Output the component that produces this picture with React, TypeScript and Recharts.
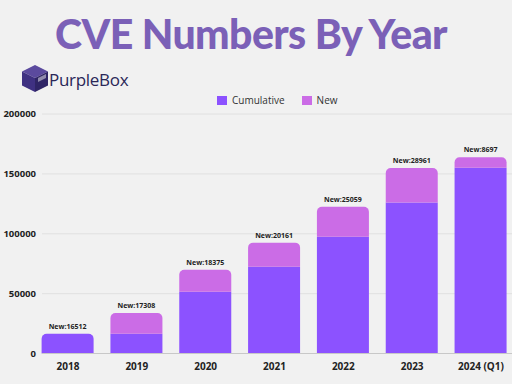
import { BarChart, Bar, XAxis, YAxis, CartesianGrid, LabelList, Rectangle } from "recharts";

const years = ["2018", "2019", "2020", "2021", "2022", "2023", "2024 (Q1)"];
const cumulative = [16512, 16500, 51600, 72400, 97400, 126000, 155200];
const added = [0, 17308, 18375, 20161, 25059, 28961, 8697];
const newCounts = [16512, 17308, 18375, 20161, 25059, 28961, 8697];
const yTicks = [0, 50000, 100000, 150000, 200000];

const PURPLE = "#8c52ff";
const PINK = "#cb6ce6";
const labelStyle = { fontSize: 7, fontWeight: 700, fill: "#222", fontFamily: "'Open Sans', sans-serif" };

const data = years.map((year, i) => ({
  year,
  cumulative: cumulative[i],
  added: added[i],
  label: `New:${newCounts[i]}`,
}));

function CumulativeShape(props: any) {
  const round = props.payload && props.payload.added === 0;
  return <Rectangle {...props} radius={round ? [5, 5, 0, 0] : 0} />;
}

// bars with no "new" segment get their label from the cumulative bar
function TopLabel(props: any) {
  const { x, y, width, index } = props;
  if (data[index].added !== 0) return null;
  return (
    <text x={x + width / 2} y={y - 5} textAnchor="middle" style={labelStyle}>
      {data[index].label}
    </text>
  );
}

function LegendBox() {
  const item = (color: string, text: string) => (
    <span style={{ display: "inline-flex", alignItems: "center", marginRight: 17 }}>
      <span style={{ width: 10, height: 9, background: color, display: "inline-block", marginRight: 5 }} />
      <span style={{ fontSize: 10, color: "#333" }}>{text}</span>
    </span>
  );
  return (
    <div style={{ position: "absolute", left: 217, top: 93, fontFamily: "'Open Sans', sans-serif", display: "flex", whiteSpace: "nowrap" }}>
      {item(PURPLE, "Cumulative")}
      {item(PINK, "New")}
    </div>
  );
}

function Logo() {
  return (
    <div style={{ position: "absolute", left: 22, top: 65, display: "flex", alignItems: "center" }}>
      <svg width={27} height={28} viewBox="0 0 27 28">
        <polygon points="13,0 26,6.5 13,13 0,6.5" fill="#5b4a9e" />
        <polygon points="0,6.5 13,13 13,27 0,20.5" fill="#3f3182" />
        <polygon points="13,13 26,6.5 26,20.5 13,27" fill="#2f2566" />
        <polygon points="16,13 24,9 24,13 16,17" fill="#f1f1f1" opacity={0.5} />
      </svg>
      <span style={{ fontFamily: "'Open Sans', sans-serif", fontSize: 17, color: "#2a2758", letterSpacing: -0.3 }}>
        PurpleBox
      </span>
    </div>
  );
}

export default function App() {
  return (
    <div style={{ position: "absolute", left: 0, top: 0, width: 512, height: 384, overflow: "hidden", background: "#f1f1f1" }}>
      <div
        style={{
          position: "absolute", top: 9, left: 0, width: 502, textAlign: "center",
          fontFamily: "Lato, sans-serif", fontWeight: 900, fontSize: 41, color: "#7b60b7", letterSpacing: -0.6,
        }}
      >
        CVE Numbers By Year
      </div>
      <Logo />
      <LegendBox />
      <BarChart
        width={512}
        height={384}
        data={data}
        margin={{ top: 114, right: 0, bottom: 0, left: 0 }}
        barSize={52}
        style={{ position: "absolute", left: 0, top: 0 }}
      >
        <CartesianGrid vertical={false} stroke="#e0e0e0" />
        <XAxis
          dataKey="year"
          height={30.5}
          padding={{ left: -8.4, right: -3.4 }}
          tickLine={false}
          axisLine={{ stroke: "#c8c8c8" }}
          tick={{ fontSize: 10, fontWeight: 700, fill: "#222", fontFamily: "'Open Sans', sans-serif" }}
          tickMargin={3}
        />
        <YAxis
          width={42}
          domain={[0, 200000]}
          ticks={yTicks}
          tickLine={false}
          axisLine={false}
          tickSize={0}
          tickMargin={6}
          tick={{ fontSize: 9.5, fontWeight: 700, fill: "#222", fontFamily: "'Open Sans', sans-serif" }}
        />
        <Bar dataKey="cumulative" name="Cumulative" stackId="a" fill={PURPLE} shape={<CumulativeShape />} isAnimationActive={false}>
          <LabelList dataKey="label" content={<TopLabel />} />
        </Bar>
        <Bar dataKey="added" name="New" stackId="a" fill={PINK} radius={[5, 5, 0, 0]} isAnimationActive={false}>
          <LabelList dataKey="label" position="top" offset={5} style={labelStyle} />
        </Bar>
      </BarChart>
    </div>
  );
}
